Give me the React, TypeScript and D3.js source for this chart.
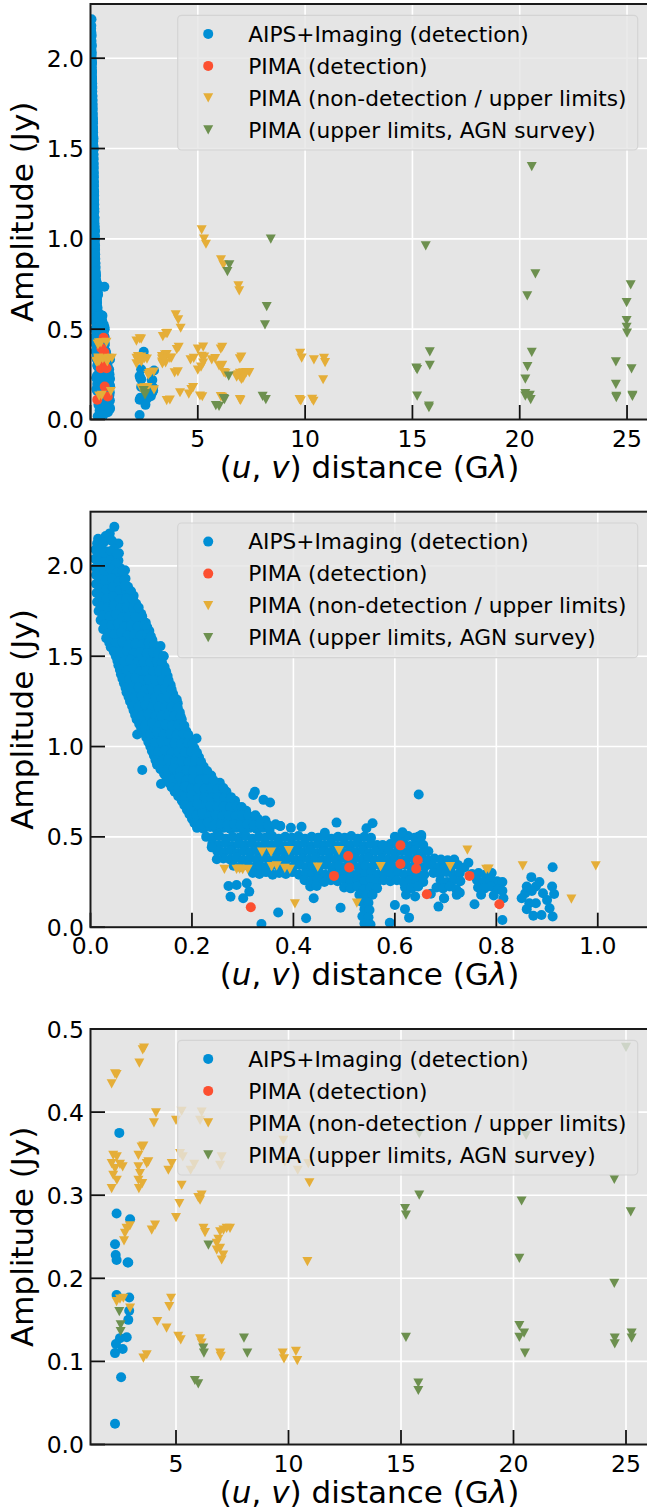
import React from "react";
import * as d3 from "d3";

type Pt = [number, number];

// ---------- DATA: [uv distance (Gλ), amplitude (Jy)] ----------
// AIPS+Imaging detections: dense short-baseline band (upper, steep part)
const aipsBandUpper: Pt[] = [
  [0.047,2.216],[0.038,2.18],[0.03,2.165],[0.015,2.15],[0.013,2.124],[0.055,2.124],[0.026,2.13],[0.042,2.14],
  [0.010,2.09],[0.022,2.10],[0.034,2.08],[0.046,2.095],[0.056,2.07],
  [0.009,2.04],[0.020,2.05],[0.032,2.03],[0.044,2.045],[0.055,2.03],
  [0.010,1.99],[0.022,2.00],[0.034,1.985],[0.046,2.0],[0.058,1.99],[0.068,1.976],
  [0.011,1.95],[0.023,1.945],[0.035,1.955],[0.047,1.94],[0.060,1.95],[0.069,1.93],
  [0.011,1.90],[0.024,1.89],[0.037,1.905],[0.050,1.895],[0.062,1.90],[0.068,1.89],[0.074,1.885],
  [0.012,1.85],[0.025,1.845],[0.038,1.855],[0.051,1.84],[0.064,1.85],[0.077,1.845],[0.085,1.835],
  [0.013,1.80],[0.026,1.795],[0.039,1.805],[0.052,1.79],[0.065,1.80],[0.078,1.795],[0.090,1.79],
  [0.016,1.75],[0.029,1.745],[0.042,1.755],[0.055,1.74],[0.068,1.75],[0.081,1.745],[0.094,1.75],[0.100,1.735],
  [0.020,1.70],[0.033,1.695],[0.046,1.705],[0.059,1.69],[0.072,1.70],[0.085,1.695],[0.098,1.70],[0.109,1.685],
  [0.025,1.65],[0.038,1.645],[0.051,1.655],[0.064,1.64],[0.077,1.65],[0.090,1.645],[0.103,1.65],[0.116,1.64],
  [0.031,1.60],[0.044,1.595],[0.057,1.605],[0.070,1.59],[0.083,1.60],[0.096,1.595],[0.109,1.60],[0.122,1.59],
  [0.040,1.55],[0.053,1.545],[0.066,1.555],[0.079,1.54],[0.092,1.55],[0.105,1.545],[0.118,1.55],[0.129,1.54],[0.138,1.556],
  [0.050,1.50],[0.063,1.495],[0.076,1.505],[0.089,1.49],[0.102,1.50],[0.115,1.495],[0.127,1.50],[0.135,1.49],[0.144,1.50],
  [0.055,1.45],[0.068,1.445],[0.081,1.455],[0.094,1.44],[0.107,1.45],[0.120,1.445],[0.133,1.45],[0.146,1.44],
  [0.060,1.40],[0.073,1.395],[0.086,1.405],[0.099,1.39],[0.112,1.40],[0.125,1.395],[0.138,1.40],[0.152,1.39],
  [0.066,1.35],[0.079,1.345],[0.092,1.355],[0.105,1.34],[0.118,1.35],[0.131,1.345],[0.144,1.35],[0.158,1.34],
  [0.071,1.30],[0.084,1.295],[0.097,1.305],[0.110,1.29],[0.123,1.30],[0.136,1.295],[0.149,1.30],[0.163,1.29],
  [0.078,1.25],[0.091,1.245],[0.104,1.255],[0.117,1.24],[0.130,1.25],[0.143,1.245],[0.156,1.25],[0.170,1.26],[0.172,1.24],
  [0.085,1.20],[0.098,1.195],[0.111,1.205],[0.124,1.19],[0.137,1.20],[0.150,1.195],[0.163,1.20],[0.176,1.19],
  [0.091,1.15],[0.104,1.145],[0.117,1.155],[0.130,1.14],[0.143,1.15],[0.156,1.145],[0.169,1.15],[0.180,1.15],
  [0.100,1.10],[0.113,1.095],[0.126,1.105],[0.139,1.09],[0.152,1.10],[0.165,1.095],[0.178,1.10],[0.189,1.085],
  [0.110,1.05],[0.123,1.045],[0.136,1.055],[0.149,1.04],[0.162,1.05],[0.175,1.045],[0.188,1.05],[0.197,1.04],[0.209,1.045],
  [0.118,1.00],[0.131,0.995],[0.144,1.005],[0.157,0.99],[0.170,1.00],[0.183,0.995],[0.196,1.00],[0.205,0.99],
  [0.125,0.95],[0.138,0.945],[0.151,0.955],[0.164,0.94],[0.177,0.95],[0.190,0.945],[0.203,0.95],[0.214,0.94],
  [0.131,0.90],[0.144,0.895],[0.157,0.905],[0.170,0.89],[0.183,0.90],[0.196,0.895],[0.209,0.90],[0.223,0.89],
  [0.145,0.85],[0.158,0.845],[0.171,0.855],[0.184,0.84],[0.197,0.85],[0.210,0.845],[0.223,0.85],[0.238,0.84],
  [0.155,0.80],[0.168,0.795],[0.181,0.805],[0.194,0.79],[0.207,0.80],[0.220,0.795],[0.233,0.80],[0.246,0.79],[0.255,0.80],
  [0.166,0.75],[0.179,0.745],[0.192,0.755],[0.205,0.74],[0.218,0.75],[0.231,0.745],[0.244,0.75],[0.257,0.74],[0.268,0.75],
  [0.180,0.70],[0.193,0.695],[0.206,0.705],[0.219,0.69],[0.232,0.70],[0.245,0.695],[0.258,0.70],[0.271,0.69],[0.285,0.70],
  [0.190,0.65],[0.203,0.645],[0.216,0.655],[0.229,0.64],[0.242,0.65],[0.255,0.645],[0.268,0.65],[0.281,0.64],[0.294,0.65],[0.307,0.645],
  [0.200,0.60],[0.213,0.595],[0.226,0.605],[0.239,0.59],[0.252,0.60],[0.265,0.595],[0.278,0.60],[0.291,0.59],[0.304,0.60],[0.317,0.595],[0.330,0.60],[0.345,0.59],
  [0.210,0.55],[0.223,0.545],[0.236,0.555],[0.249,0.54],[0.262,0.55],[0.275,0.545],[0.288,0.55],[0.301,0.54],[0.314,0.55],[0.327,0.545],[0.340,0.55],[0.353,0.54],[0.374,0.56],[0.395,0.55],[0.416,0.556],
];

// AIPS+Imaging detections: in-between points of the steep part of the band
const aipsBandUpperFill: Pt[] = [
  [0.016,2.075],[0.028,2.07],[0.040,2.08],[0.052,2.065],
  [0.015,2.025],[0.027,2.02],[0.039,2.03],[0.050,2.015],
  [0.016,1.975],[0.028,1.97],[0.040,1.98],[0.052,1.965],[0.063,1.97],
  [0.017,1.925],[0.030,1.92],[0.043,1.93],[0.056,1.915],[0.067,1.92],
  [0.018,1.875],[0.031,1.87],[0.044,1.88],[0.057,1.865],[0.070,1.87],[0.080,1.86],
  [0.019,1.825],[0.032,1.82],[0.045,1.83],[0.058,1.815],[0.071,1.82],[0.084,1.815],
  [0.020,1.775],[0.033,1.77],[0.046,1.78],[0.059,1.765],[0.072,1.77],[0.085,1.765],[0.095,1.77],
  [0.024,1.725],[0.037,1.72],[0.050,1.73],[0.063,1.715],[0.076,1.72],[0.089,1.715],[0.102,1.72],
  [0.028,1.675],[0.041,1.67],[0.054,1.68],[0.067,1.665],[0.080,1.67],[0.093,1.665],[0.106,1.67],[0.112,1.66],
  [0.034,1.625],[0.047,1.62],[0.060,1.63],[0.073,1.615],[0.086,1.62],[0.099,1.615],[0.112,1.62],[0.119,1.61],
  [0.037,1.575],[0.050,1.57],[0.063,1.58],[0.076,1.565],[0.089,1.57],[0.102,1.565],[0.115,1.57],[0.125,1.565],
  [0.046,1.525],[0.059,1.52],[0.072,1.53],[0.085,1.515],[0.098,1.52],[0.111,1.515],[0.124,1.52],[0.133,1.515],
  [0.053,1.475],[0.066,1.47],[0.079,1.48],[0.092,1.465],[0.105,1.47],[0.118,1.465],[0.131,1.47],[0.141,1.465],
  [0.058,1.425],[0.071,1.42],[0.084,1.43],[0.097,1.415],[0.110,1.42],[0.123,1.415],[0.136,1.42],[0.149,1.415],
  [0.063,1.375],[0.076,1.37],[0.089,1.38],[0.102,1.365],[0.115,1.37],[0.128,1.365],[0.141,1.37],[0.154,1.365],
  [0.069,1.325],[0.082,1.32],[0.095,1.33],[0.108,1.315],[0.121,1.32],[0.134,1.315],[0.147,1.32],[0.160,1.315],
  [0.075,1.275],[0.088,1.27],[0.101,1.28],[0.114,1.265],[0.127,1.27],[0.140,1.265],[0.153,1.27],[0.166,1.265],
  [0.082,1.225],[0.095,1.22],[0.108,1.23],[0.121,1.215],[0.134,1.22],[0.147,1.215],[0.160,1.22],[0.172,1.215],
  [0.088,1.175],[0.101,1.17],[0.114,1.18],[0.127,1.165],[0.140,1.17],[0.153,1.165],[0.166,1.17],[0.178,1.165],
  [0.096,1.125],[0.109,1.12],[0.122,1.13],[0.135,1.115],[0.148,1.12],[0.161,1.115],[0.174,1.12],[0.185,1.115],
  [0.105,1.075],[0.118,1.07],[0.131,1.08],[0.144,1.065],[0.157,1.07],[0.170,1.065],[0.183,1.07],[0.193,1.065],
  [0.114,1.025],[0.127,1.02],[0.140,1.03],[0.153,1.015],[0.166,1.02],[0.179,1.015],[0.192,1.02],[0.201,1.015],
  [0.121,0.975],[0.134,0.97],[0.147,0.98],[0.160,0.965],[0.173,0.97],[0.186,0.965],[0.199,0.97],[0.210,0.965],
  [0.128,0.925],[0.141,0.92],[0.154,0.93],[0.167,0.915],[0.180,0.92],[0.193,0.915],[0.206,0.92],[0.218,0.915],
  [0.138,0.875],[0.151,0.87],[0.164,0.88],[0.177,0.865],[0.190,0.87],[0.203,0.865],[0.216,0.87],[0.230,0.865],
  [0.150,0.825],[0.163,0.82],[0.176,0.83],[0.189,0.815],[0.202,0.82],[0.215,0.815],[0.228,0.82],[0.242,0.815],
  [0.160,0.775],[0.173,0.77],[0.186,0.78],[0.199,0.765],[0.212,0.77],[0.225,0.765],[0.238,0.77],[0.251,0.765],[0.262,0.77],
  [0.173,0.725],[0.186,0.72],[0.199,0.73],[0.212,0.715],[0.225,0.72],[0.238,0.715],[0.251,0.72],[0.264,0.715],[0.277,0.72],
  [0.185,0.675],[0.198,0.67],[0.211,0.68],[0.224,0.665],[0.237,0.67],[0.250,0.665],[0.263,0.67],[0.276,0.665],[0.289,0.67],[0.298,0.665],
  [0.195,0.625],[0.208,0.62],[0.221,0.63],[0.234,0.615],[0.247,0.62],[0.260,0.615],[0.273,0.62],[0.286,0.615],[0.299,0.62],[0.312,0.615],[0.325,0.62],
  [0.205,0.575],[0.218,0.57],[0.231,0.58],[0.244,0.565],[0.257,0.57],[0.270,0.565],[0.283,0.57],[0.296,0.565],[0.309,0.57],[0.322,0.565],[0.335,0.57],[0.350,0.565],[0.365,0.57],
];

// AIPS+Imaging detections: flatter part of the band (0.2 - 0.82 Gλ)
const aipsBandLower: Pt[] = [
  [0.228,0.50],[0.241,0.495],[0.254,0.505],[0.267,0.49],[0.280,0.50],[0.293,0.495],[0.306,0.505],[0.319,0.49],[0.332,0.50],[0.345,0.495],[0.358,0.505],[0.371,0.49],[0.384,0.50],[0.397,0.495],[0.410,0.505],[0.423,0.49],[0.436,0.50],[0.449,0.495],[0.462,0.505],[0.475,0.49],[0.488,0.50],[0.501,0.495],[0.514,0.505],[0.527,0.49],[0.540,0.50],[0.553,0.495],[0.600,0.50],[0.613,0.49],[0.626,0.505],[0.639,0.495],[0.652,0.50],
  [0.240,0.46],[0.253,0.455],[0.266,0.465],[0.279,0.45],[0.292,0.46],[0.305,0.455],[0.318,0.465],[0.331,0.45],[0.344,0.46],[0.357,0.455],[0.370,0.465],[0.383,0.45],[0.396,0.46],[0.409,0.455],[0.422,0.465],[0.435,0.45],[0.448,0.46],[0.461,0.455],[0.474,0.465],[0.487,0.45],[0.500,0.46],[0.513,0.455],[0.526,0.465],[0.539,0.45],[0.552,0.46],[0.565,0.455],[0.578,0.45],[0.591,0.46],[0.604,0.455],[0.617,0.465],[0.630,0.45],[0.643,0.46],[0.656,0.455],
  [0.250,0.42],[0.263,0.415],[0.276,0.425],[0.289,0.41],[0.302,0.42],[0.315,0.415],[0.328,0.425],[0.341,0.41],[0.354,0.42],[0.367,0.415],[0.380,0.425],[0.393,0.41],[0.406,0.42],[0.419,0.415],[0.432,0.425],[0.445,0.41],[0.458,0.42],[0.471,0.415],[0.484,0.425],[0.497,0.41],[0.510,0.42],[0.523,0.415],[0.536,0.425],[0.549,0.41],[0.562,0.42],[0.575,0.415],[0.588,0.425],[0.601,0.41],[0.614,0.42],[0.627,0.415],[0.640,0.425],[0.653,0.41],[0.666,0.42],
  [0.262,0.38],[0.275,0.375],[0.288,0.385],[0.301,0.37],[0.314,0.38],[0.327,0.375],[0.340,0.385],[0.353,0.37],[0.366,0.38],[0.379,0.375],[0.392,0.385],[0.405,0.37],[0.418,0.38],[0.431,0.375],[0.444,0.385],[0.457,0.37],[0.470,0.38],[0.483,0.375],[0.496,0.385],[0.509,0.37],[0.522,0.38],[0.535,0.375],[0.548,0.385],[0.561,0.37],[0.574,0.38],[0.587,0.375],[0.600,0.385],[0.613,0.37],[0.626,0.38],[0.639,0.375],[0.652,0.385],[0.665,0.37],[0.678,0.38],[0.691,0.375],[0.704,0.37],[0.717,0.375],
  [0.282,0.34],[0.295,0.335],[0.308,0.345],[0.321,0.33],[0.334,0.34],[0.347,0.335],[0.360,0.345],[0.373,0.33],[0.386,0.34],[0.399,0.335],[0.412,0.345],[0.425,0.33],[0.438,0.34],[0.451,0.335],[0.464,0.345],[0.477,0.33],[0.490,0.34],[0.503,0.335],[0.516,0.345],[0.529,0.33],[0.542,0.34],[0.555,0.335],[0.568,0.345],[0.581,0.33],[0.594,0.34],[0.607,0.335],[0.620,0.345],[0.633,0.33],[0.646,0.34],[0.659,0.335],[0.672,0.345],[0.685,0.33],[0.698,0.34],[0.711,0.335],[0.724,0.345],[0.737,0.33],
  [0.320,0.30],[0.333,0.295],[0.346,0.305],[0.359,0.29],[0.372,0.30],[0.385,0.295],[0.398,0.305],[0.411,0.29],[0.424,0.30],[0.437,0.295],[0.450,0.305],[0.463,0.29],[0.476,0.30],[0.489,0.295],[0.502,0.305],[0.515,0.29],[0.528,0.30],[0.541,0.295],[0.554,0.305],[0.567,0.29],[0.580,0.30],[0.593,0.295],[0.606,0.305],[0.619,0.29],[0.632,0.30],[0.645,0.295],[0.658,0.29],[0.676,0.30],[0.689,0.295],[0.702,0.305],[0.715,0.29],[0.728,0.30],[0.752,0.295],[0.765,0.30],[0.778,0.29],[0.791,0.30],
  [0.422,0.26],[0.435,0.255],[0.448,0.265],[0.461,0.25],[0.474,0.26],[0.487,0.255],[0.500,0.265],[0.513,0.25],[0.526,0.26],[0.539,0.255],[0.552,0.265],[0.565,0.25],[0.578,0.26],[0.591,0.255],[0.604,0.26],[0.617,0.25],[0.630,0.26],[0.643,0.255],[0.656,0.25],[0.690,0.26],[0.703,0.25],[0.716,0.26],[0.729,0.255],[0.762,0.26],[0.775,0.25],[0.788,0.26],[0.801,0.255],[0.812,0.25],
  [0.500,0.22],[0.513,0.215],[0.526,0.225],[0.539,0.21],[0.552,0.22],[0.565,0.215],[0.620,0.22],[0.633,0.215],[0.646,0.225],[0.682,0.22],[0.695,0.215],[0.708,0.225],[0.721,0.21],[0.764,0.22],[0.777,0.215],[0.790,0.225],[0.803,0.21],
  [0.530,0.18],[0.543,0.175],[0.556,0.18],[0.622,0.18],[0.640,0.17],[0.697,0.16],[0.722,0.179],[0.728,0.191],[0.671,0.185],[0.770,0.18],[0.795,0.175],[0.814,0.16],[0.812,0.202],
  [0.535,0.14],[0.548,0.135],[0.540,0.10],[0.550,0.095],[0.536,0.06],[0.548,0.055],[0.540,0.02],[0.552,0.015],
];

// AIPS+Imaging detections: scattered points around the band
const aipsScatter: Pt[] = [
  [0.092,1.067],[0.102,0.87],[0.139,0.793],[0.144,1.5],[0.068,1.89],
  [0.324,0.75],[0.321,0.732],[0.341,0.705],[0.354,0.69],[0.485,0.579],[0.374,0.56],[0.462,0.523],
  [0.249,0.376],[0.239,0.442],[0.272,0.228],[0.288,0.234],[0.308,0.243],[0.276,0.169],[0.301,0.16],[0.313,0.197],
  [0.337,0.018],[0.37,0.081],[0.425,0.05],[0.44,0.16],[0.433,0.225],[0.446,0.228],[0.493,0.108],
  [0.647,0.735],[0.544,0.548],[0.556,0.575],[0.615,0.525],[0.576,0.455],[0.646,0.5],[0.652,0.51],
  [0.745,0.357],[0.757,0.127],[0.812,0.04],[0.686,0.114],[0.697,0.16],[0.6,0.123],[0.62,0.1],[0.628,0.053],[0.59,0.025],
  [0.911,0.332],[0.869,0.277],[0.911,0.059],[0.889,0.068],[0.873,0.063],[0.857,0.188],[0.86,0.225],[0.878,0.225],
  [0.892,0.188],[0.91,0.225],[0.914,0.184],[0.865,0.133],[0.878,0.133],[0.85,0.16],[0.87,0.2],[0.9,0.15],[0.885,0.25],[0.905,0.105],[0.86,0.1],
];

// AIPS+Imaging detections at long baselines (2-3 Gλ)
const aipsLongBaseline: Pt[] = [
  [2.48,0.375],[2.36,0.278],[2.96,0.271],[2.29,0.241],[2.32,0.228],[2.36,0.222],[2.85,0.219],[2.88,0.219],
  [2.36,0.18],[2.92,0.177],[2.92,0.161],[2.88,0.15],[2.81,0.129],[2.51,0.128],[2.33,0.121],[2.63,0.115],
  [2.29,0.11],[2.56,0.081],[2.29,0.025],
];

// PIMA detections
const pimaDetections: Pt[] = [
  [0.316,0.11],[0.48,0.284],[0.508,0.394],[0.51,0.33],[0.611,0.453],[0.611,0.35],
  [0.645,0.372],[0.642,0.324],[0.663,0.182],[0.747,0.284],[0.806,0.127],
];

// PIMA non-detections / upper limits (short baselines, < 1.1 Gλ)
const pimaLimitsShort: Pt[] = [
  [0.264,0.32],[0.288,0.32],[0.294,0.322],[0.300,0.318],[0.31,0.32],[0.338,0.416],[0.356,0.416],[0.391,0.424],
  [0.357,0.335],[0.367,0.34],[0.383,0.326],[0.393,0.32],[0.403,0.129],[0.448,0.332],[0.49,0.424],[0.525,0.133],
  [0.572,0.335],[0.709,0.335],[0.743,0.427],[0.78,0.32],[0.785,0.322],[0.852,0.339],[0.948,0.155],[0.996,0.339],
];

// PIMA non-detections / upper limits (long baselines)
const pimaLimitsLong: Pt[] = [
  [5.18,1.05],[5.29,0.998],[5.38,0.97],[6.08,0.884],[6.19,0.856],[6.89,0.74],[6.93,0.712],[3.97,0.579],[4.09,0.551],[4.2,0.505],
  [2.14,0.434],[2.29,0.446],[2.36,0.445],[3.37,0.459],[3.52,0.475],[3.58,0.477],[4.11,0.399],[4.02,0.387],
  [5.0,0.39],[5.25,0.401],[6.14,0.4],[6.07,0.39],[5.18,0.35],[5.3,0.346],[5.81,0.337],[5.65,0.33],[7.03,0.346],[6.96,0.336],
  [9.77,0.366],[9.84,0.34],[10.41,0.33],[10.88,0.338],[10.93,0.315],[10.84,0.22],
  [2.21,0.348],[2.37,0.346],[2.14,0.338],[2.51,0.337],[2.29,0.332],[2.63,0.334],[2.21,0.324],[2.37,0.318],[2.14,0.308],
  [3.33,0.348],[3.47,0.358],[3.55,0.359],[3.33,0.334],[3.7,0.338],[3.77,0.34],[3.4,0.326],[3.33,0.318],[3.5,0.314],[3.35,0.308],
  [4.66,0.33],[4.81,0.338],[5.25,0.312],[5.15,0.29],[5.0,0.273],[5.99,0.297],[6.14,0.3],[6.07,0.294],
  [4.07,0.264],[3.92,0.258],[2.8,0.26],[2.73,0.254],[2.95,0.263],[2.69,0.245],
  [6.22,0.26],[6.29,0.255],[6.96,0.256],[7.11,0.258],[7.4,0.26],[7.25,0.26],[6.88,0.247],[6.96,0.236],[7.1,0.228],[7.03,0.222],[6.81,0.234],[6.81,0.242],
  [2.36,0.172],[2.51,0.175],[2.66,0.176],[2.96,0.164],[4.78,0.176],[4.7,0.166],[4.17,0.148],[4.58,0.14],
  [5.1,0.13],[5.21,0.126],[6.07,0.127],[6.14,0.122],[6.96,0.11],[6.99,0.106],[3.55,0.104],[3.7,0.108],
  [9.74,0.11],[9.8,0.103],[10.33,0.112],[10.39,0.101],
];

// PIMA upper limits from the AGN survey
const agnSurveyLimits: Pt[] = [
  [8.4,0.998],[6.47,0.856],[6.38,0.819],[8.21,0.625],[8.13,0.524],
  [20.56,1.40],[15.62,0.961],[20.73,0.806],[20.35,0.684],[25.17,0.745],[24.98,0.647],[24.98,0.547],[24.98,0.51],[25.0,0.478],
  [15.81,0.374],[20.56,0.372],[24.48,0.319],[15.81,0.30],[20.36,0.293],[15.18,0.284],[15.22,0.276],[25.21,0.28],[20.26,0.224],[24.48,0.194],
  [20.26,0.143],[20.47,0.134],[20.26,0.129],[20.51,0.11],[15.22,0.129],[24.5,0.128],[24.5,0.121],[25.25,0.134],[25.25,0.128],[15.77,0.074],[15.77,0.065],
  [6.44,0.24],[2.48,0.16],[2.54,0.144],[2.54,0.136],[8.02,0.128],[6.21,0.116],[6.24,0.11],[8.17,0.11],[5.84,0.077],[5.99,0.073],
];

const seriesLabels = [
  "AIPS+Imaging (detection)",
  "PIMA (detection)",
  "PIMA (non-detection / upper limits)",
  "PIMA (upper limits, AGN survey)",
];

const panel1XTicks = [0, 5, 10, 15, 20, 25];
const panel2XTicks = [0, 0.2, 0.4, 0.6, 0.8, 1.0];
const panel3XTicks = [5, 10, 15, 20, 25];
const ampTicksWide = [0, 0.5, 1.0, 1.5, 2.0];
const ampTicksZoom = [0, 0.1, 0.2, 0.3, 0.4, 0.5];

// ---------- STYLE ----------
const W = 647;
const H = 1512;
const LEFT = 90.5;
const RIGHT = 648.5;
const PH = 415.5;
const FONT = "DejaVu Sans, Verdana, sans-serif";
const BLUE = "#008FD5";
const RED = "#FC4F30";
const YELLOW = "#E5AE38";
const GREEN = "#6D904F";
const BG = "#E5E5E5";
const R = 5.0;
const TW = 5;
const TH = 4.6;

const tri = (x: number, y: number) =>
  `M${x - TW},${y - TH}L${x + TW},${y - TH}L${x},${y + TH}Z`;

interface PanelProps {
  id: string;
  top: number;
  xDomain: [number, number];
  yDomain: [number, number];
  xTicks: number[];
  yTicks: number[];
  xFmt: (v: number) => string;
}

function Panel({ id, top, xDomain, yDomain, xTicks, yTicks, xFmt }: PanelProps) {
  const bottom = top + PH;
  const x = d3.scaleLinear().domain(xDomain).range([LEFT, RIGHT]);
  const y = d3.scaleLinear().domain(yDomain).range([bottom, top]);
  const yFmt = d3.format(".1f");
  const blue = [...aipsBandUpper, ...aipsBandUpperFill, ...aipsBandLower, ...aipsScatter, ...aipsLongBaseline];
  const yellow = [...pimaLimitsShort, ...pimaLimitsLong];
  const legL = 177.7;
  const legR = 637.7;
  const legT = top + 11.3;
  const legH = 134.7;
  const colors = [BLUE, RED, YELLOW, GREEN];
  return (
    <g>
      <defs>
        <clipPath id={id}>
          <rect x={LEFT} y={top} width={RIGHT - LEFT} height={PH} />
        </clipPath>
      </defs>
      <rect x={LEFT} y={top} width={RIGHT - LEFT} height={PH} fill={BG} />
      {xTicks.map((t) => (
        <line key={"gx" + t} x1={x(t)} x2={x(t)} y1={top} y2={bottom} stroke="#fff" strokeWidth={1.6} />
      ))}
      {yTicks.map((t) => (
        <line key={"gy" + t} x1={LEFT} x2={RIGHT} y1={y(t)} y2={y(t)} stroke="#fff" strokeWidth={1.6} />
      ))}
      <g clipPath={`url(#${id})`}>
        {blue.map((p, i) => (
          <circle key={"b" + i} cx={x(p[0])} cy={y(p[1])} r={R} fill={BLUE} />
        ))}
        {pimaDetections.map((p, i) => (
          <circle key={"r" + i} cx={x(p[0])} cy={y(p[1])} r={R} fill={RED} />
        ))}
        {yellow.map((p, i) => (
          <path key={"y" + i} d={tri(x(p[0]), y(p[1]))} fill={YELLOW} />
        ))}
        {agnSurveyLimits.map((p, i) => (
          <path key={"g" + i} d={tri(x(p[0]), y(p[1]))} fill={GREEN} />
        ))}
      </g>
      {/* ticks */}
      {xTicks.map((t) => (
        <line key={"tx" + t} x1={x(t)} x2={x(t)} y1={bottom} y2={bottom - 14.5} stroke="#111" strokeWidth={1.8} />
      ))}
      {yTicks.map((t) => (
        <line key={"ty" + t} x1={LEFT} x2={LEFT + 14.5} y1={y(t)} y2={y(t)} stroke="#111" strokeWidth={1.8} />
      ))}
      {/* spines */}
      <rect x={LEFT} y={top} width={RIGHT - LEFT} height={PH} fill="none" stroke="#1a1a1a" strokeWidth={2} />
      {/* tick labels */}
      {xTicks.map((t) => (
        <text key={"lx" + t} x={x(t)} y={bottom + 27} textAnchor="middle" fontFamily={FONT} fontSize={23.5} fill="#000">
          {xFmt(t)}
        </text>
      ))}
      {yTicks.map((t) => (
        <text key={"ly" + t} x={84} y={y(t) + 8.5} textAnchor="end" fontFamily={FONT} fontSize={23.5} fill="#000">
          {yFmt(t)}
        </text>
      ))}
      {/* axis labels */}
      <text x={(LEFT + RIGHT) / 2} y={bottom + 58} textAnchor="middle" fontFamily={FONT} fontSize={31} fill="#000">
        (<tspan fontStyle="italic">u</tspan>, <tspan fontStyle="italic">v</tspan>) distance (G<tspan fontStyle="italic">λ</tspan>)
      </text>
      <text
        transform={`translate(33,${(top + bottom) / 2}) rotate(-90)`}
        textAnchor="middle"
        fontFamily={FONT}
        fontSize={31}
        fill="#000"
      >
        Amplitude (Jy)
      </text>
      {/* legend */}
      <rect x={legL} y={legT} width={legR - legL} height={legH} rx={4} fill={BG} fillOpacity={0.8} stroke="#d4d4d4" strokeWidth={1.2} />
      {seriesLabels.map((lab, i) => {
        const cy = legT + 18.6 + i * 32;
        const mx = legL + 30.5;
        return (
          <g key={"leg" + i}>
            {i < 2 ? (
              <circle cx={mx} cy={cy} r={R} fill={colors[i]} />
            ) : (
              <path d={tri(mx, cy)} fill={colors[i]} />
            )}
            <text x={legL + 70.5} y={cy + 7.6} fontFamily={FONT} fontSize={21.7} fill="#000">
              {lab}
            </text>
          </g>
        );
      })}
    </g>
  );
}

export default function App() {
  return (
    <svg
      width={W}
      height={H}
      viewBox={`0 0 ${W} ${H}`}
      style={{ position: "absolute", left: 0, top: 0, background: "#fff" }}
    >
      <rect x={0} y={0} width={W} height={H} fill="#fff" />
      <Panel
        id="clip1"
        top={4}
        xDomain={[0, 26]}
        yDomain={[0, 2.3]}
        xTicks={panel1XTicks}
        yTicks={ampTicksWide}
        xFmt={(v) => d3.format("d")(v)}
      />
      <Panel
        id="clip2"
        top={511.7}
        xDomain={[0, 1.1]}
        yDomain={[0, 2.3]}
        xTicks={panel2XTicks}
        yTicks={ampTicksWide}
        xFmt={(v) => d3.format(".1f")(v)}
      />
      <Panel
        id="clip3"
        top={1029}
        xDomain={[1.2, 26]}
        yDomain={[0, 0.5]}
        xTicks={panel3XTicks}
        yTicks={ampTicksZoom}
        xFmt={(v) => d3.format("d")(v)}
      />
    </svg>
  );
}
